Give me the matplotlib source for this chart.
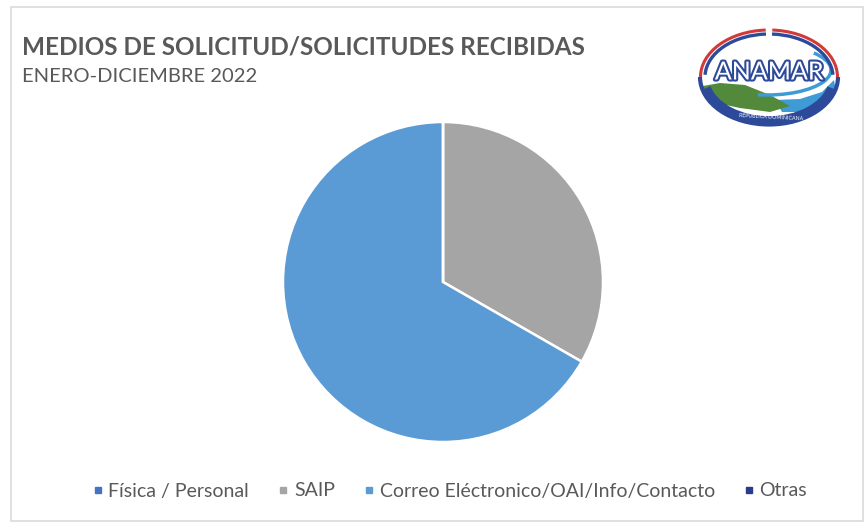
import matplotlib
matplotlib.use("Agg")
import matplotlib.pyplot as plt
from matplotlib.patches import Ellipse, Arc, Polygon, Rectangle
from matplotlib.lines import Line2D
import matplotlib.patheffects as pe

# Requests received by channel, Jan-Dec 2022 (share of total, %)
medios = ["Física / Personal", "SAIP", "Correo Eléctronico/OAI/Info/Contacto", "Otras"]
porcentaje = [0.0, 33.3, 66.7, 0.0]
colores = ["#4472C4", "#A5A5A5", "#5B9BD5", "#2B3B8C"]

titulo = "MEDIOS DE SOLICITUD/SOLICITUDES RECIBIDAS"
subtitulo = "ENERO-DICIEMBRE 2022"

plt.rcParams["font.family"] = ["Lato", "DejaVu Sans"]
W, H = 867, 523
fig = plt.figure(figsize=(W / 100, H / 100), dpi=100)
fig.patch.set_facecolor("white")

# background layer in pixel units (y grows downward)
bg = fig.add_axes([0, 0, 1, 1])
bg.set_xlim(0, W)
bg.set_ylim(H, 0)
bg.axis("off")
bg.add_patch(Rectangle((11, 7), 852, 514, fill=False, edgecolor="#DADADA", lw=1.2))

bg.text(22, 47, titulo, fontsize=17.5, fontweight="bold", color="#595959", va="center", ha="left")
bg.text(22, 77, subtitulo, fontsize=14.5, color="#595959", va="center", ha="left")

# ANAMAR logo
navy = "#2D4A9A"
cx, cy = 769, 77
bg.add_patch(Ellipse((cx, cy), 138, 95, facecolor="white", edgecolor="none"))
# sea wave on the right, hill on the left
bg.add_patch(Polygon([(775, 100), (800, 99), (822, 92), (834, 80), (836, 92), (826, 104),
                      (800, 112), (782, 112)], closed=True,
                     facecolor="#3E9BD6", edgecolor="none"))
bg.add_patch(Polygon([(703, 86), (720, 83), (745, 85), (770, 95), (790, 106), (770, 112),
                      (740, 108), (712, 102), (703, 95)], closed=True,
                     facecolor="#52893A", edgecolor="none"))
bg.add_patch(Arc((cx - 2, 70), 128, 50, theta1=-20, theta2=110, color="#3E9BD6", lw=2.5))
bg.add_patch(Arc((cx, cy), 130, 88, theta1=10, theta2=170, color=navy, lw=7))
bg.add_patch(Arc((cx, cy), 138, 95, theta1=0, theta2=180, color=navy, lw=3))
bg.add_patch(Arc((cx, cy), 137, 94, theta1=180, theta2=266, color="#D23A3A", lw=2.2))
bg.add_patch(Arc((cx, cy), 137, 94, theta1=274, theta2=360, color="#D23A3A", lw=2.2))
bg.add_patch(Arc((cx, cy), 128, 86, theta1=182, theta2=266, color=navy, lw=2.4))
bg.add_patch(Arc((cx, cy), 128, 86, theta1=274, theta2=358, color=navy, lw=2.4))
bg.text(cx, 72, "ANAMAR", fontsize=18, color="white", ha="center", va="center",
        fontstretch="condensed",
        path_effects=[pe.withStroke(linewidth=3, foreground=navy)])
bg.text(cx + 2, 117, "REPUBLICA DOMINICANA", fontsize=3.8, color="white", ha="center",
        va="center", rotation=-3)

# pie chart
ax = fig.add_axes([283 / W, (H - 442) / H, 320 / W, 320 / H])
ax.pie(porcentaje, colors=colores, startangle=90, counterclock=False, radius=1,
       wedgeprops=dict(edgecolor="white", linewidth=1.8))
ax.set_xlim(-1.0, 1.0)
ax.set_ylim(-1.0, 1.0)
ax.set_aspect("equal")

handles = [Line2D([], [], marker="s", linestyle="none", markersize=5,
                  markerfacecolor=c, markeredgecolor=c) for c in colores]
fig.legend(handles, medios, loc="center", bbox_to_anchor=(450 / W, 1 - 491 / H),
           ncol=4, frameon=False, fontsize=14, labelcolor="#595959",
           handlelength=0.5, handletextpad=0.3, columnspacing=1.5)

fig.savefig("out.png", dpi=100)
